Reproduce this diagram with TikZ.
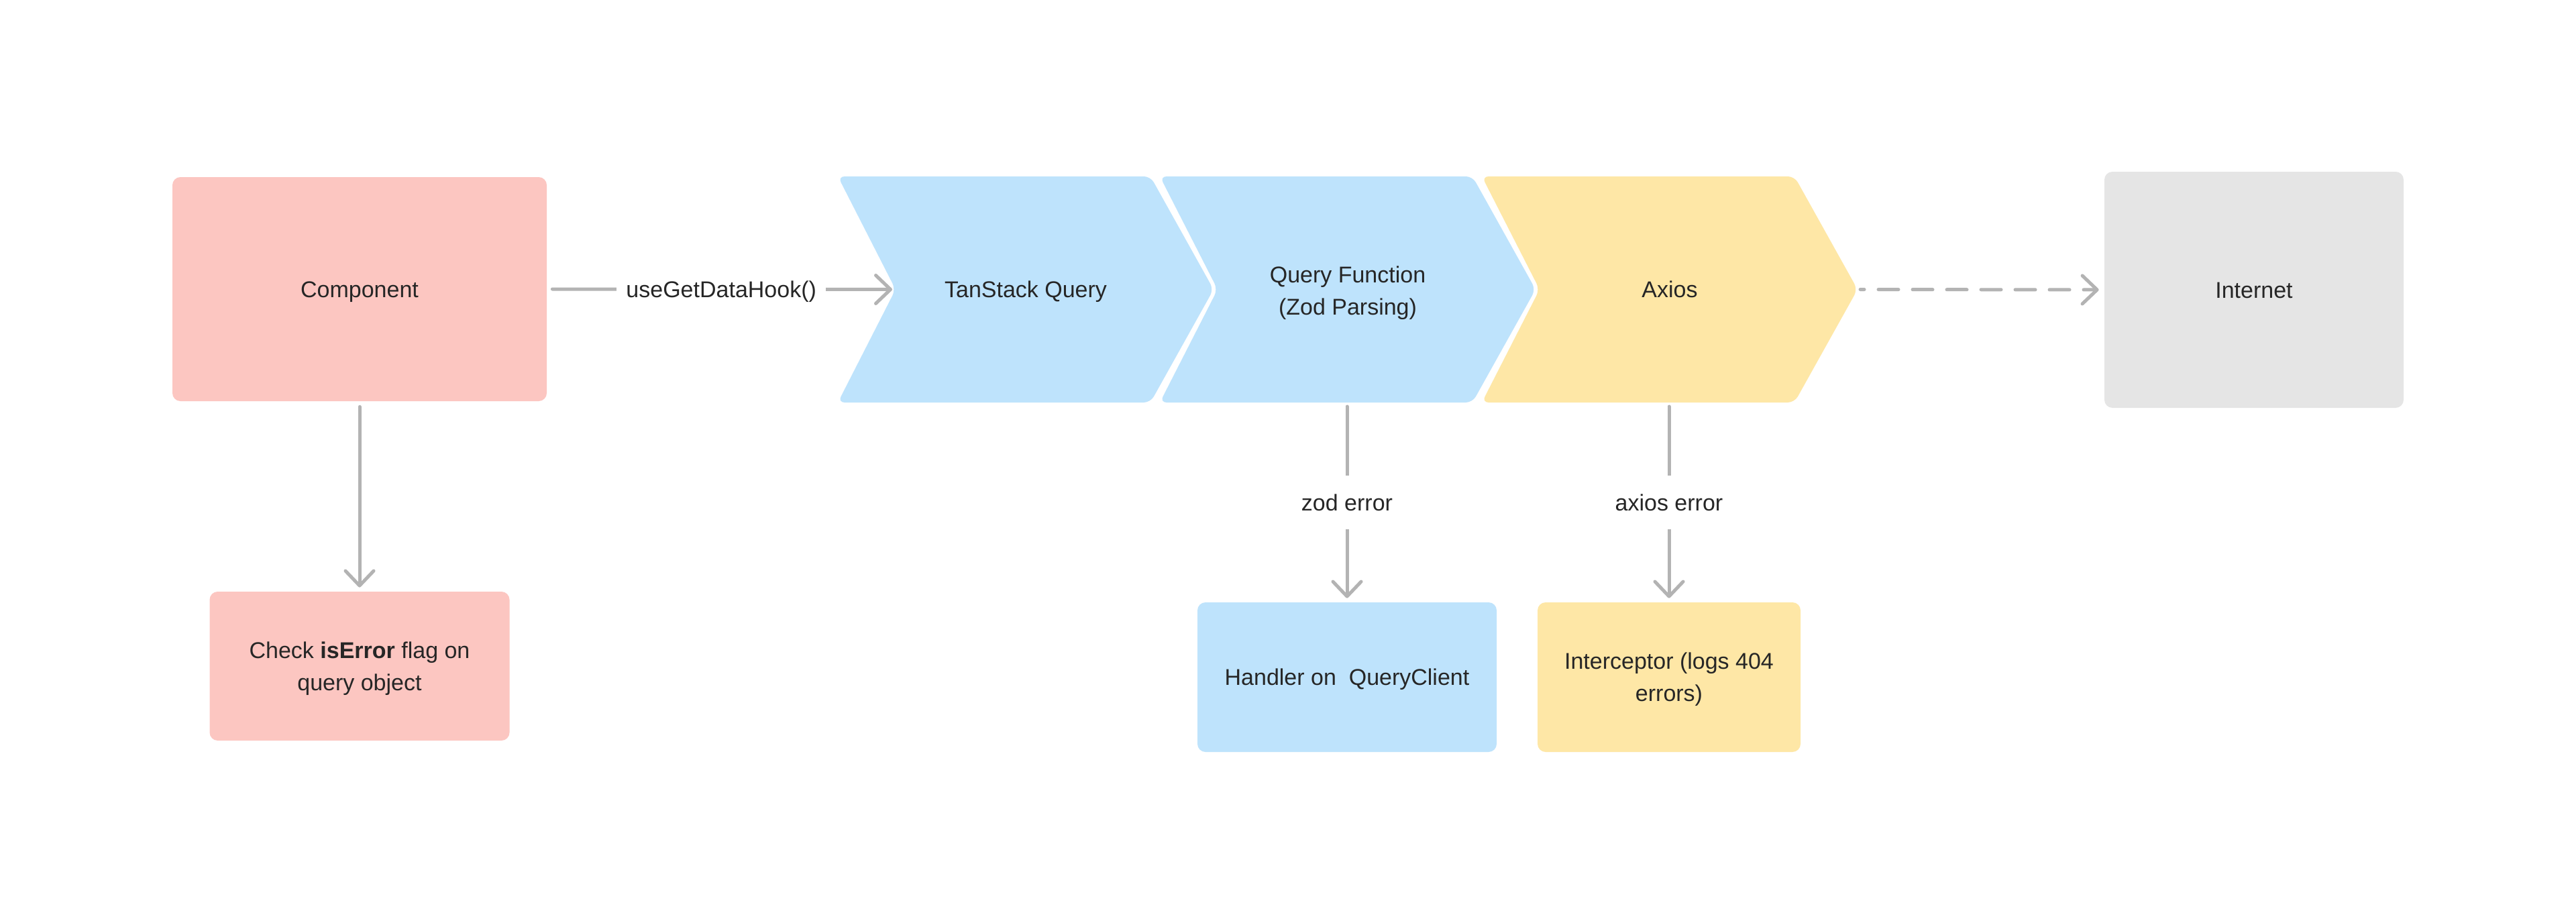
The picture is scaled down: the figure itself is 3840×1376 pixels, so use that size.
\documentclass[tikz,border=0pt]{standalone}
\usepackage{fontspec}
\setmainfont{Liberation Sans}
\usetikzlibrary{arrows.meta}
\definecolor{pinkbox}{HTML}{FCC6C1}
\definecolor{bluebox}{HTML}{BEE3FC}
\definecolor{yellowbox}{HTML}{FEE7A6}
\definecolor{graybox}{HTML}{E5E5E5}
\definecolor{arrowgray}{HTML}{B3B3B3}
\definecolor{txt}{HTML}{262626}
\begin{document}
\begin{tikzpicture}[x=0.5pt,y=-0.5pt,
  every node/.style={font=\fontsize{17}{24}\selectfont, text=txt, align=center,
    text height=12.2pt, text depth=0pt},
  twoline/.style={text height=36.2pt, text depth=0pt},
  box/.style={rectangle, rounded corners=6pt, inner sep=0pt},
  chev/.style={rounded corners=5pt},
  arr/.style={draw=arrowgray, line width=2.5pt, line cap=round,
    -{Straight Barb[length=11pt,width=21pt,line cap=round,line join=round]}},
  lab/.style={fill=white, inner xsep=7pt, inner ysep=14pt}]
\useasboundingbox (0,0) rectangle (3840,1376);
\fill[white] (0,0) rectangle (3840,1376);

% boxes
\node[box, fill=pinkbox, minimum width=279pt, minimum height=167pt] (comp) at (536,431) {Component};
\node[box, twoline, fill=pinkbox, minimum width=223.5pt, minimum height=111pt] (check) at (536,993) {Check \textbf{isError} flag on\\query object};
\node[box, fill=bluebox, minimum width=223pt, minimum height=111.5pt] (handler) at (2008,1009.5) {Handler on\ \ QueryClient};
\node[box, twoline, fill=yellowbox, minimum width=196pt, minimum height=111.5pt] (interc) at (2488,1009.5) {Interceptor (logs 404\\errors)};
\node[box, fill=graybox, minimum width=223pt, minimum height=176pt] (inet) at (3360,432) {Internet};

% chevrons
\fill[bluebox, chev] (1249,263) -- (1715,263) -- (1809,431.5) -- (1715,600) -- (1249,600) -- (1335,431.5) -- cycle;
\fill[bluebox, chev] (1729,263) -- (2195,263) -- (2289,431.5) -- (2195,600) -- (1729,600) -- (1815,431.5) -- cycle;
\fill[yellowbox, chev] (2209,263) -- (2675,263) -- (2769,431.5) -- (2675,600) -- (2209,600) -- (2295,431.5) -- cycle;
\node (tq) at (1529,431.5) {TanStack Query};
\node[twoline] (qf) at (2009,433) {Query Function\\(Zod Parsing)};
\node (ax) at (2489,431.5) {Axios};
\coordinate (tqN) at (1335,431.5);
\coordinate (axT) at (2769,431.5);
\coordinate (qfB) at (2008,600);
\coordinate (axB) at (2488,600);

% connectors
\draw[arr, shorten <=4pt, shorten >=2.5pt] (comp.east) -- node[lab] {useGetDataHook()} (tqN);
\draw[arr, shorten <=4pt, shorten >=3pt] (comp.south) -- (check.north);
\draw[arr, shorten <=3pt, shorten >=3pt] (qfB) -- node[lab] {zod error} (handler.north);
\draw[arr, shorten <=3pt, shorten >=3pt] (axB) -- node[lab] {axios error} (interc.north);
\draw[arr, dash pattern=on 15pt off 10.5pt, dash phase=12pt, shorten <=2pt, shorten >=4pt] (axT) -- (inet.west);
\end{tikzpicture}
\end{document}
